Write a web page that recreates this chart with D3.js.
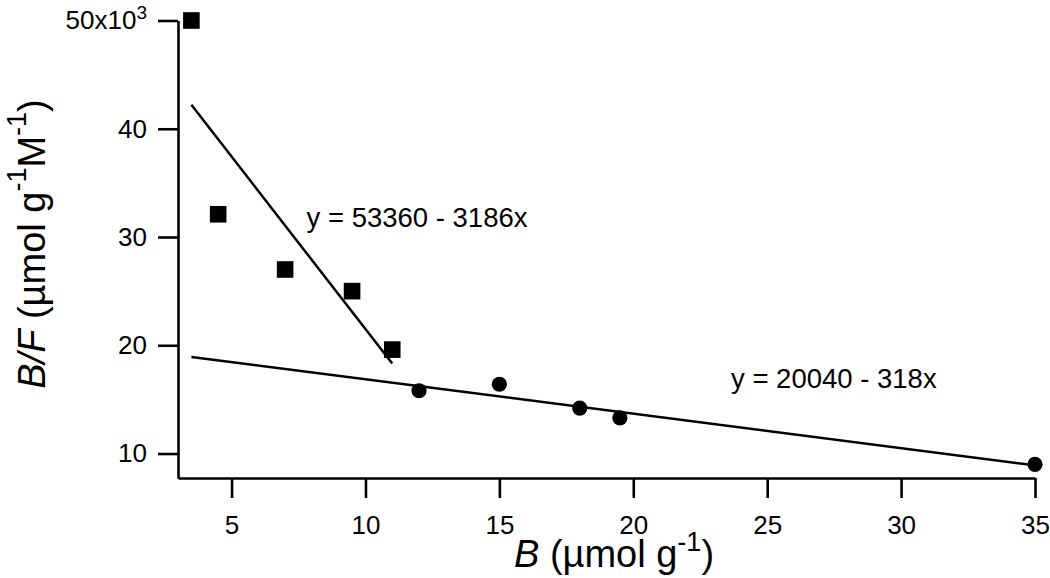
<!DOCTYPE html>
<html>
<head>
<meta charset="utf-8">
<script src="https://cdn.jsdelivr.net/npm/d3@7"></script>
<style>
  body { margin: 0; background: #fff; }
  text { font-family: "Liberation Sans", Arial, sans-serif; fill: #000; }
</style>
</head>
<body>
<div id="chart"></div>
<script>
const width = 1050, height = 578;

// binding data, B/F in units of 10^3
const squareB = [3.5, 4.5, 7, 9.5, 11];
const squareBF = [50, 32.1, 27, 25, 19.6];
const circleB = [12, 15, 18, 19.5, 35];
const circleBF = [15.8, 16.4, 14.2, 13.3, 9.0];

// linear fits: y = a + b x
const fitLabels = ["y = 53360 - 3186x", "y = 20040 - 318x"];
const fitIntercepts = [53360, 20040];
const fitSlopes = [-3186, -318];
const fitFrom = [3.5, 3.5];
const fitTo = [11, 35];

const xTicks = [5, 10, 15, 20, 25, 30, 35];
const yTicks = [10, 20, 30, 40, 50];

const svg = d3.select("#chart").append("svg")
    .attr("width", width)
    .attr("height", height);

const x = d3.scaleLinear().domain([3, 35]).range([178, 1035]);
const y = d3.scaleLinear().domain([7.74, 50]).range([478, 20.5]);

// axes
const xAxis = svg.append("g")
    .attr("transform", `translate(0,${y.range()[0]})`)
    .call(d3.axisBottom(x).tickValues(xTicks).tickSize(20).tickSizeOuter(0).tickPadding(18));

const yAxis = svg.append("g")
    .attr("transform", `translate(${x.range()[0]},0)`)
    .call(d3.axisLeft(y).tickValues(yTicks).tickSize(20).tickSizeOuter(0).tickPadding(11));

[xAxis, yAxis].forEach(a => {
    a.selectAll("path, line").attr("stroke", "#000").attr("stroke-width", 2.6);
    a.selectAll("text").style("font-size", "26px").attr("fill", "#000");
});

// 50x10^3 label
yAxis.selectAll(".tick text").filter(d => d === 50)
    .text("50x10")
    .append("tspan")
    .attr("dy", "-0.55em")
    .style("font-size", "19px")
    .text("3");

// fit lines
fitLabels.forEach((lbl, i) => {
    const f = v => (fitIntercepts[i] + fitSlopes[i] * v) / 1000;
    svg.append("line")
        .attr("x1", x(fitFrom[i])).attr("y1", y(f(fitFrom[i])))
        .attr("x2", x(fitTo[i])).attr("y2", y(f(fitTo[i])))
        .attr("stroke", "#000")
        .attr("stroke-width", 2.5);
});

// annotation anchors in data coordinates
const labelX = [7.8, 23.65];
const labelY = [30.95, 16.08];
svg.selectAll(".fitlabel")
    .data(fitLabels)
    .enter().append("text")
    .attr("class", "fitlabel")
    .attr("x", (d, i) => x(labelX[i]))
    .attr("y", (d, i) => y(labelY[i]))
    .style("font-size", "27.5px")
    .text(d => d);

// markers
const sq = 16.6;
svg.selectAll(".sq")
    .data(squareB.map((b, i) => [b, squareBF[i]]))
    .enter().append("rect")
    .attr("class", "sq")
    .attr("x", d => x(d[0]) - sq / 2)
    .attr("y", d => y(d[1]) - sq / 2)
    .attr("width", sq)
    .attr("height", sq)
    .attr("fill", "#000");

svg.selectAll(".dot")
    .data(circleB.map((b, i) => [b, circleBF[i]]))
    .enter().append("circle")
    .attr("class", "dot")
    .attr("cx", d => x(d[0]))
    .attr("cy", d => y(d[1]))
    .attr("r", 7.6)
    .attr("fill", "#000");

// axis titles
const xt = svg.append("text")
    .attr("x", 614)
    .attr("y", 567)
    .attr("text-anchor", "middle")
    .style("font-size", "38px");
xt.append("tspan").style("font-style", "italic").text("B");
xt.append("tspan").text(" (µmol g");
xt.append("tspan").attr("dy", -16).style("font-size", "27px").text("-1");
xt.append("tspan").attr("dy", 16).text(")");

const yt = svg.append("text")
    .attr("transform", "translate(45,244) rotate(-90)")
    .attr("text-anchor", "middle")
    .style("font-size", "38px");
yt.append("tspan").style("font-style", "italic").text("B/F");
yt.append("tspan").text(" (µmol g");
yt.append("tspan").attr("dy", -19).style("font-size", "27px").text("-1");
yt.append("tspan").attr("dy", 19).text("M");
yt.append("tspan").attr("dy", -19).style("font-size", "27px").text("-1");
yt.append("tspan").attr("dy", 19).text(")");
</script>
</body>
</html>
